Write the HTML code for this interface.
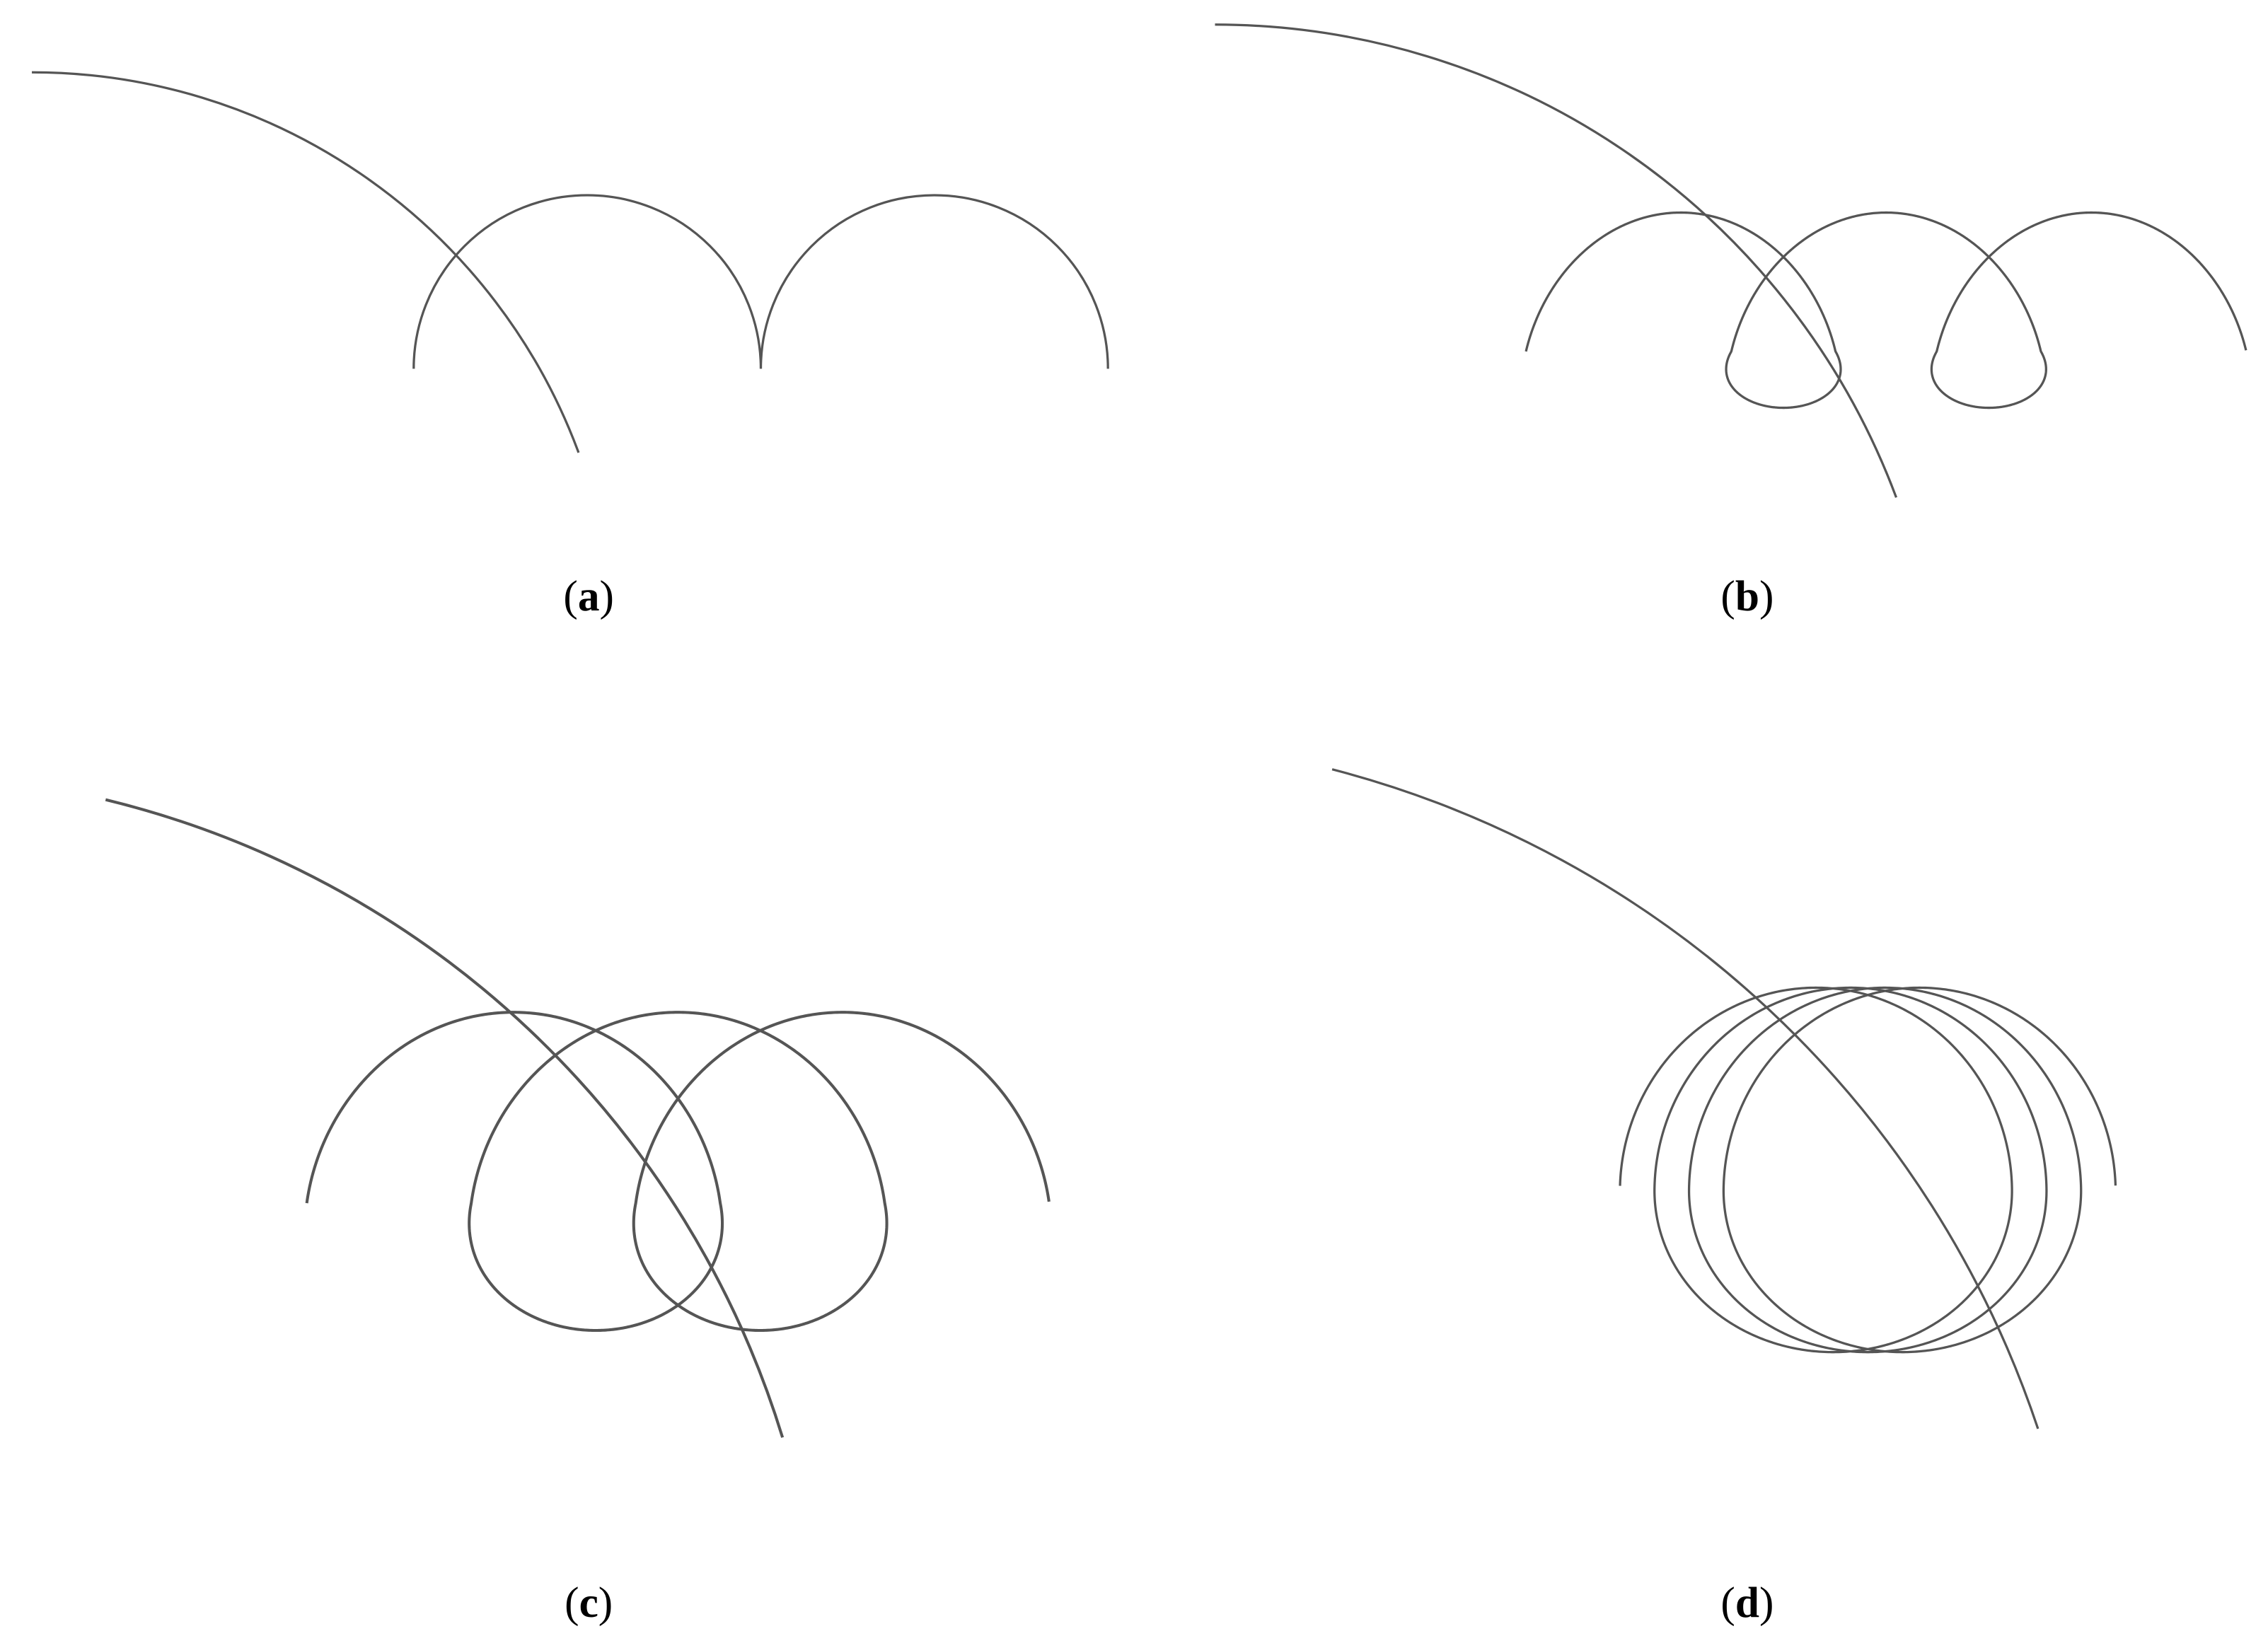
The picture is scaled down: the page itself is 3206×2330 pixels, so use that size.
<!DOCTYPE html>
<html><head><meta charset="utf-8"><style>
html,body{margin:0;padding:0;background:#fff;}
svg{display:block;}
</style></head><body>
<svg id="s" width="3206" height="2330" viewBox="0 0 1568 1139.6" xmlns="http://www.w3.org/2000/svg">
<g fill="none" stroke="#555" stroke-width="1.6">
<path d="M22,50 A403,403 0 0 1 400,313"/>
<path d="M286,255 A120,120 0 0 1 526,255 A120,120 0 0 1 766,255"/>
<path d="M840,17 A503,503 0 0 1 1311,344"/>
<path d="M73,553 A650,650 0 0 1 541,994" stroke-width="2"/>
<path d="M921,532 A700,700 0 0 1 1409,988"/>
<path id="pb"/>
<path id="pc" stroke-width="2"/>
<path id="pd"/>
</g>
<g font-family="Liberation Serif, serif" font-size="30" text-anchor="middle" fill="#000">
<text x="407" y="422">(<tspan font-weight="bold">a</tspan>)</text>
<text x="1208" y="422">(<tspan font-weight="bold">b</tspan>)</text>
<text x="407" y="1118">(<tspan font-weight="bold">c</tspan>)</text>
<text x="1208" y="1118">(<tspan font-weight="bold">d</tspan>)</text>
</g>
</svg>
<script>
function curve(id,x0,yc,A,Rx,Ru,Rl,s1){
  var d="",n=0;
  for(var s=-Math.PI/2;s<=s1+1e-9;s+=0.01){
    var c=Math.cos(s);
    var x=x0+A*s+Rx*Math.sin(s);
    var y=yc-(c>0?Ru:Rl)*c;
    d+=(n++?"L":"M")+x.toFixed(2)+","+y.toFixed(2);
  }
  document.getElementById(id).setAttribute("d",d);
}
curve("pb",1162,243,22.6,71.5,96,39,Math.PI/2+4*Math.PI);
curve("pc",355,832,18.1,114.5,132,88,Math.PI/2+4*Math.PI);
curve("pd",1255.5,820,3.8,129.5,137,115,Math.PI/2+6*Math.PI);
</script>
</body></html>
